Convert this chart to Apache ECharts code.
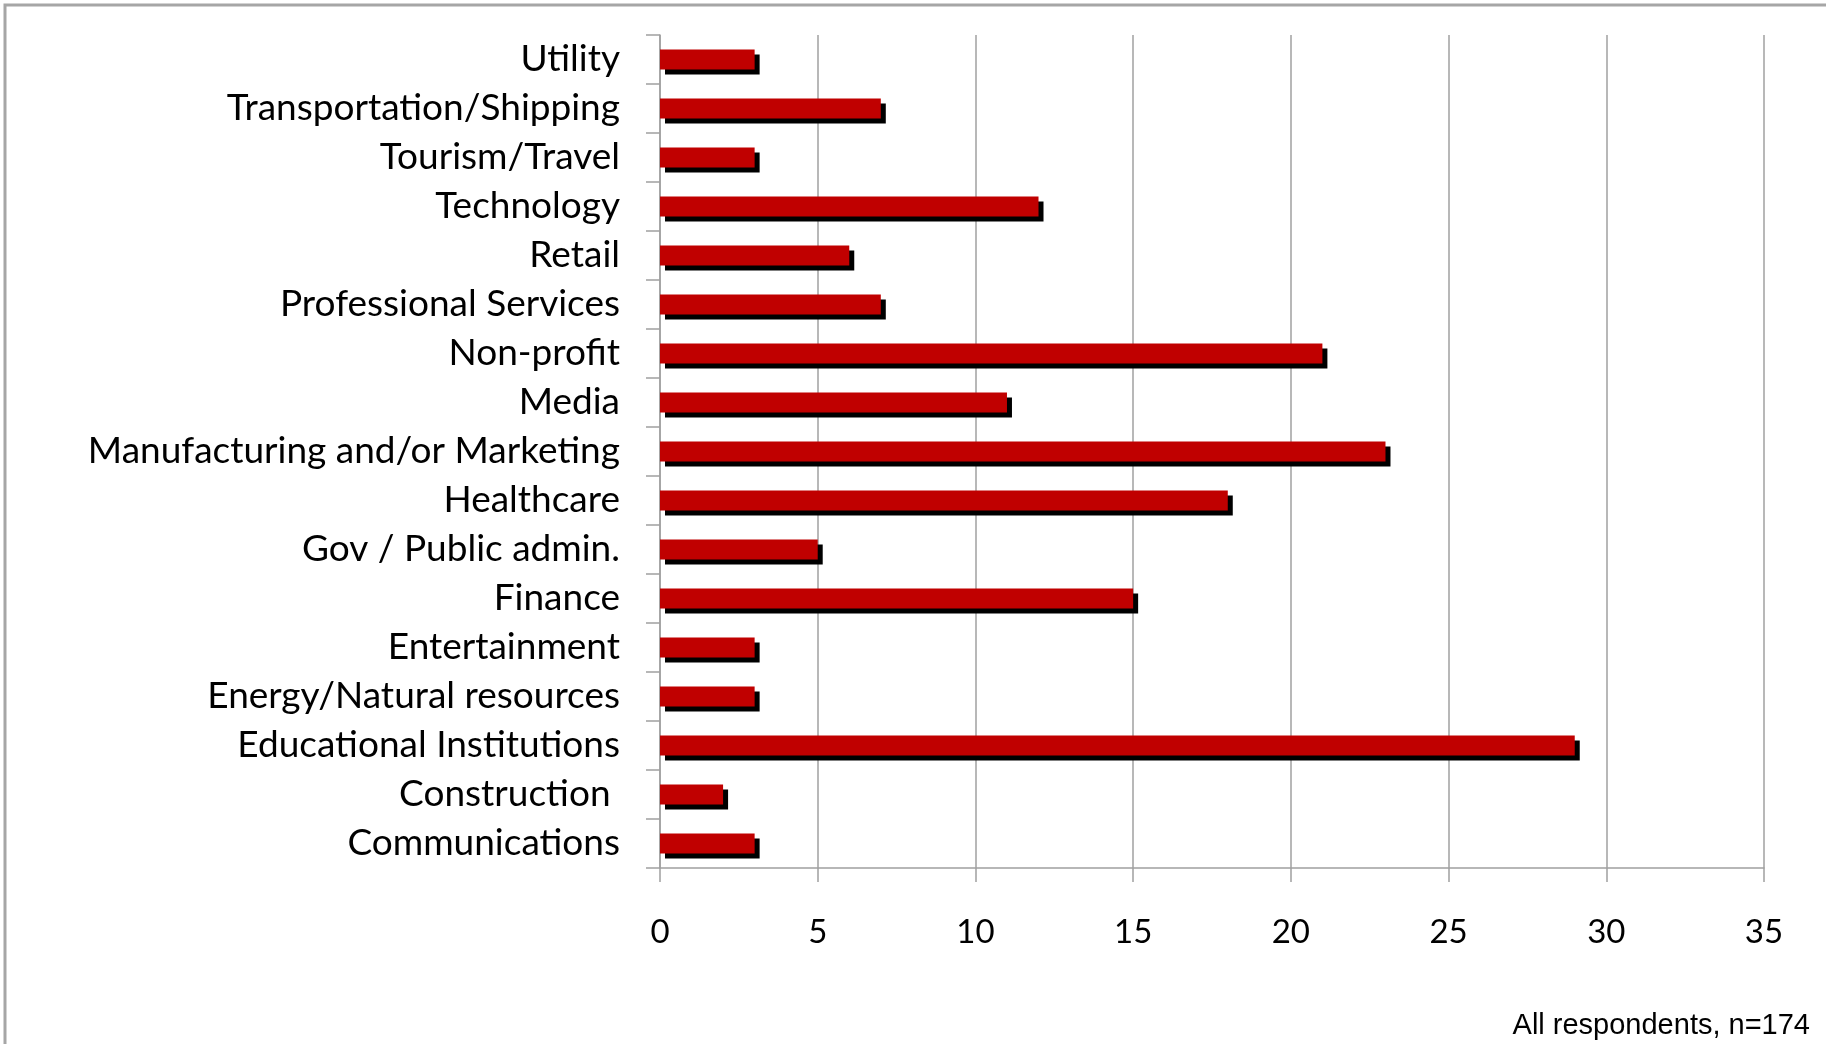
<!DOCTYPE html>
<html>
<head>
<meta charset="utf-8">
<script src="https://cdn.jsdelivr.net/npm/echarts@6/dist/echarts.min.js"></script>
<style>
  html, body { margin: 0; padding: 0; background: #fff; }
  #graphics { width: 1826px; height: 1044px; }
</style>
</head>
<body>
<div id="graphics"></div>
<script>
// industries, top to bottom as in the chart
var industries = ['Utility', 'Transportation/Shipping', 'Tourism/Travel', 'Technology', 'Retail',
  'Professional Services', 'Non-profit', 'Media', 'Manufacturing and/or Marketing', 'Healthcare',
  'Gov / Public admin.', 'Finance', 'Entertainment', 'Energy/Natural resources',
  'Educational Institutions', 'Construction ', 'Communications'];
var respondents = [3, 7, 3, 12, 6, 7, 21, 11, 23, 18, 5, 15, 3, 3, 29, 2, 3];
var xTicks = [0, 5, 10, 15, 20, 25, 30, 35];
var note = 'All respondents, n=174';

var myChart = echarts.init(document.getElementById('graphics'));

var option = {
  backgroundColor: '#fff',
  animation: false,
  graphic: [
    {
      type: 'polyline',
      shape: { points: [[5, 1044], [5, 5], [1826, 5]] },
      style: { stroke: '#a6a6a6', lineWidth: 3, fill: null }
    },
    {
      type: 'text',
      right: 16,
      bottom: 4,
      style: { text: note, font: '29px "Liberation Sans", Arial, sans-serif', fill: '#000' }
    }
  ],
  grid: { left: 660, top: 35, width: 1104, height: 833 },
  xAxis: {
    type: 'value',
    min: xTicks[0],
    max: xTicks[xTicks.length - 1],
    interval: 5,
    axisLine: { show: true, lineStyle: { color: '#a0a0a0', width: 1.5 } },
    axisTick: { show: true, length: 14, lineStyle: { color: '#a0a0a0', width: 1.5 } },
    splitLine: { show: true, lineStyle: { color: '#a0a0a0', width: 1.5 } },
    axisLabel: { margin: 48, color: '#000', fontSize: 33, fontFamily: 'Lato, "Open Sans", sans-serif' }
  },
  yAxis: {
    type: 'category',
    data: industries,
    inverse: true,
    axisLine: { show: true, lineStyle: { color: '#a0a0a0', width: 1.5 } },
    axisTick: { show: true, length: 14, lineStyle: { color: '#a0a0a0', width: 1.5 } },
    axisLabel: { margin: 40, color: '#000', fontSize: 37, fontFamily: 'Lato, "Open Sans", sans-serif' }
  },
  series: [{
    type: 'bar',
    data: respondents,
    barWidth: 20,
    itemStyle: {
      color: '#c00000',
      shadowColor: '#000',
      shadowBlur: 0,
      shadowOffsetX: 5,
      shadowOffsetY: 5
    }
  }]
};

myChart.setOption(option);
</script>
</body>
</html>
